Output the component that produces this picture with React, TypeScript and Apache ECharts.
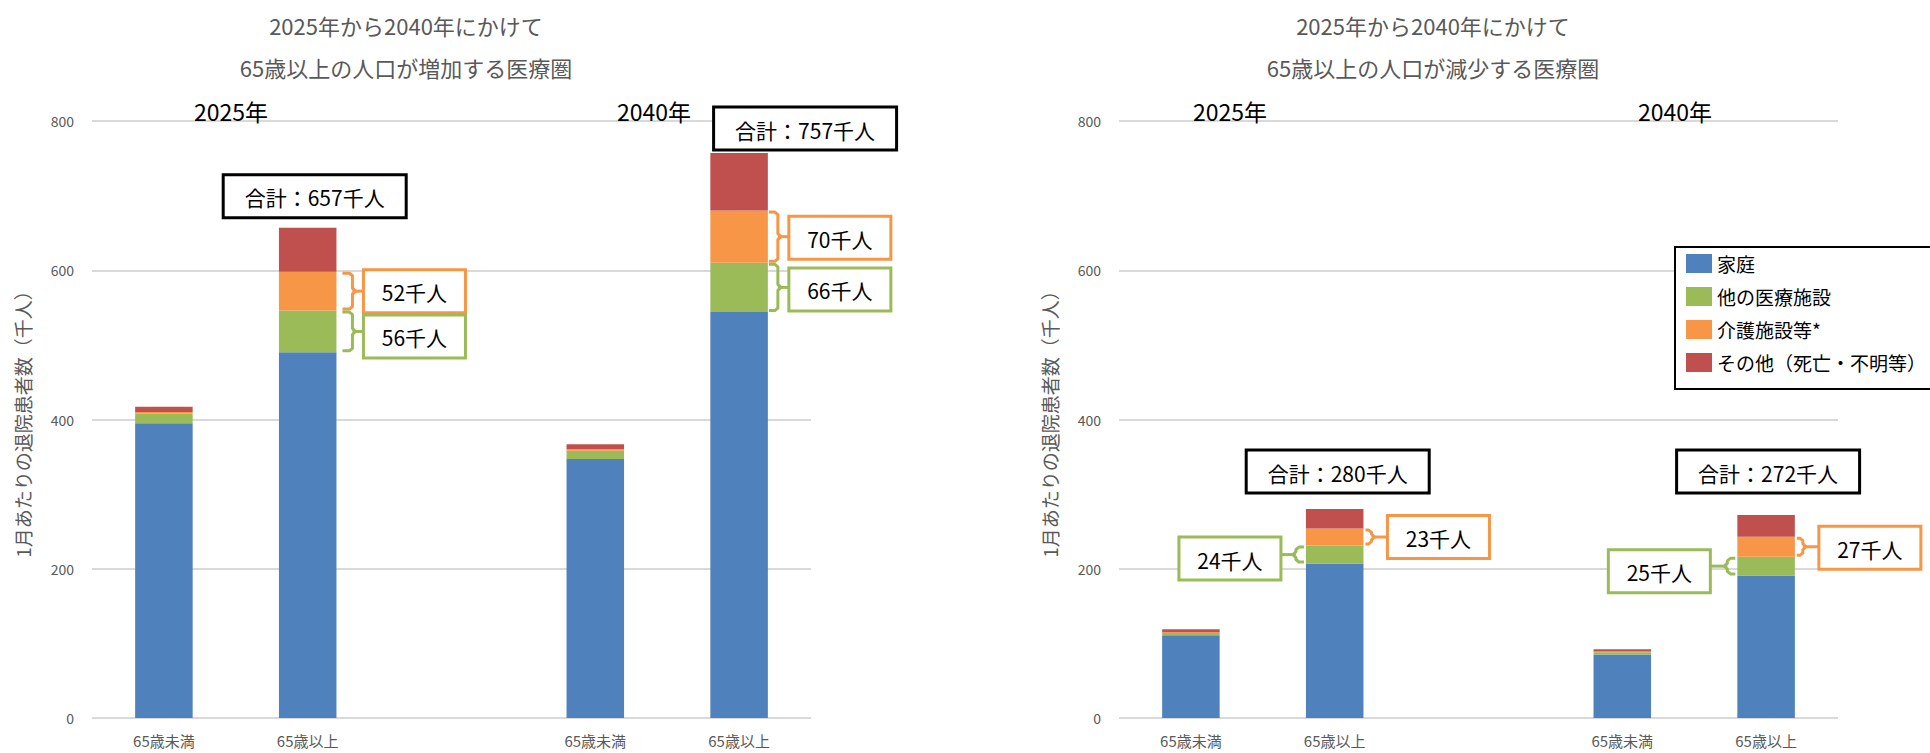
import React, { useEffect, useRef } from 'react';
import * as echarts from 'echarts';

const FONT = '"Noto Sans CJK JP", "Noto Sans", sans-serif';

// ---- data ----
const categories = ['65歳未満', '65歳以上', '', '65歳未満', '65歳以上'];
const seriesNames = ['家庭', '他の医療施設', '介護施設等*', 'その他（死亡・不明等）'];
const colors = ['#4F81BD', '#9BBB59', '#F79646', '#C0504D'];

// 65歳以上の人口が増加する医療圏
const incHome = [395, 490, null, 347, 544];
const incOther = [13, 56, null, 11, 66];
const incCare = [2, 52, null, 2, 70];
const incEtc = [7, 59, null, 7, 77];

// 65歳以上の人口が減少する医療圏
const decHome = [111, 207, null, 85, 191];
const decOther = [3, 24, null, 3, 25];
const decCare = [1, 23, null, 1, 27];
const decEtc = [4, 26, null, 3, 29];

const yMin = 0;
const yMax = 800;
const yInterval = 200;

const titleLine1 = ['2025年から2040年にかけて', '2025年から2040年にかけて'];
const titleLine2 = ['65歳以上の人口が増加する医療圏', '65歳以上の人口が減少する医療圏'];
const yearLabels = ['2025年', '2040年'];
const yAxisName = '1月あたりの退院患者数（千人）';

const panels = [
  [incHome, incOther, incCare, incEtc],
  [decHome, decOther, decCare, decEtc],
];

// ---- layout ----
const W = 1930;
const H = 753;
const grids = [
  { left: 92, top: 121, width: 719, height: 597 },
  { left: 1119, top: 121, width: 719, height: 597 },
];
const titleCenterOffset = 314; // from grid left
const yearLabelPos = [
  [139, 562],
  [111, 556],
];

const totalBoxes = [
  { panel: 0, cat: 1, dx: 7, gap: 10 },
  { panel: 0, cat: 4, dx: 66, gap: 3 },
  { panel: 1, cat: 1, dx: 3, gap: 16 },
  { panel: 1, cat: 4, dx: 2, gap: 22 },
];

const callouts = [
  { panel: 0, cat: 1, s: 2, side: 'right', hook0: 6, depth: 16, boxGap: 27, dy: 0 },
  { panel: 0, cat: 1, s: 1, side: 'right', hook0: 6, depth: 16, boxGap: 27, dy: 5 },
  { panel: 0, cat: 4, s: 2, side: 'right', hook0: 1, depth: 10, boxGap: 21, dy: 1 },
  { panel: 0, cat: 4, s: 1, side: 'right', hook0: 1, depth: 10, boxGap: 21, dy: 2 },
  { panel: 1, cat: 1, s: 1, side: 'left', hook0: 2, depth: 10, boxGap: 25, dy: 4 },
  { panel: 1, cat: 1, s: 2, side: 'right', hook0: 2, depth: 8, boxGap: 24, dy: 0 },
  { panel: 1, cat: 4, s: 1, side: 'left', hook0: 2, depth: 10, boxGap: 27, dy: 5 },
  { panel: 1, cat: 4, s: 2, side: 'right', hook0: 2, depth: 8, boxGap: 24, dy: 1 },
];

function buildBaseOption(): any {
  const series: any[] = [];
  panels.forEach((arrs, p) => {
    arrs.forEach((data, k) => {
      series.push({
        type: 'bar',
        name: seriesNames[k],
        stack: 'panel' + p,
        xAxisIndex: p,
        yAxisIndex: p,
        barWidth: '40%',
        data: data.map((v) => (v == null ? '-' : v)),
        itemStyle: { color: colors[k] },
        emphasis: { disabled: true },
      });
    });
  });
  return {
    animation: false,
    textStyle: { fontFamily: FONT },
    grid: grids.map((g) => ({ ...g, containLabel: false })),
    xAxis: grids.map((_, p) => ({
      gridIndex: p,
      type: 'category',
      data: categories,
      axisLine: { show: false },
      axisTick: { show: false },
      axisLabel: { fontSize: 15, lineHeight: 18, color: '#595959', margin: 13, interval: 0, fontFamily: FONT },
    })),
    yAxis: grids.map((_, p) => ({
      gridIndex: p,
      type: 'value',
      min: yMin,
      max: yMax,
      interval: yInterval,
      axisLine: { show: false },
      axisTick: { show: false },
      axisLabel: { fontSize: 14, color: '#595959', margin: 18, fontFamily: FONT },
      splitLine: { lineStyle: { color: '#d9d9d9', width: 2 } },
      name: yAxisName,
      nameLocation: 'middle',
      nameGap: 60,
      nameTextStyle: { fontSize: 19, color: '#595959', fontFamily: FONT },
    })),
    legend: {
      data: seriesNames,
      orient: 'vertical',
      left: 1686,
      top: 254,
      padding: 0,
      itemWidth: 26,
      itemHeight: 19,
      itemGap: 14,
      icon: 'rect',
      z: 20,
      selectedMode: false,
      textStyle: { fontSize: 19, color: '#000', fontFamily: FONT, lineHeight: 19 },
    },
    series,
  };
}

function App() {
  const ref = useRef<HTMLDivElement>(null);
  useEffect(() => {
    if (!ref.current) return;
    const chart = echarts.init(ref.current, null, { renderer: 'svg', width: W, height: H });
    chart.setOption(buildBaseOption());

    const px = (p: number, cat: number, v: number) =>
      chart.convertToPixel({ gridIndex: p } as any, [cat, v]) as number[];

    const graphics: any[] = [];

    // titles & year labels
    grids.forEach((g, p) => {
      const cx = g.left + titleCenterOffset;
      graphics.push({
        type: 'text', x: cx, y: 25, z: 30,
        style: { text: titleLine1[p], fill: '#595959', fontSize: 22, fontWeight: 'normal', fontFamily: FONT, align: 'center', verticalAlign: 'middle' },
      });
      graphics.push({
        type: 'text', x: cx, y: 67, z: 30,
        style: { text: titleLine2[p], fill: '#595959', fontSize: 22, fontWeight: 'normal', fontFamily: FONT, align: 'center', verticalAlign: 'middle' },
      });
      yearLabels.forEach((t, i) => {
        graphics.push({
          type: 'text', x: g.left + yearLabelPos[p][i], y: 111, z: 30,
          style: { text: t, fill: '#000', fontSize: 23, fontWeight: 'normal', fontFamily: FONT, align: 'center', verticalAlign: 'middle' },
        });
      });
    });

    // legend frame
    graphics.push({
      type: 'rect', z: 15,
      shape: { x: 1675, y: 247, width: 300, height: 142 },
      style: { fill: '#fff', stroke: '#000', lineWidth: 2 },
    });

    const stackSum = (p: number, cat: number, upTo: number) => {
      let s = 0;
      for (let k = 0; k < upTo; k++) s += (panels[p][k][cat] as number) || 0;
      return s;
    };

    // total boxes
    totalBoxes.forEach((b) => {
      const total = stackSum(b.panel, b.cat, 4);
      const [cx, ty] = px(b.panel, b.cat, total);
      const w = 183, h = 43;
      const x = cx + b.dx - w / 2;
      const y = ty - b.gap - h;
      graphics.push({
        type: 'rect', z: 25,
        shape: { x, y, width: w, height: h },
        style: { fill: '#fff', stroke: '#000', lineWidth: 3 },
      });
      graphics.push({
        type: 'text', x: x + w / 2, y: y + h / 2 + 1, z: 26,
        style: { text: '合計：' + total + '千人', fill: '#000', fontSize: 21, fontFamily: FONT, align: 'center', verticalAlign: 'middle' },
      });
    });

    // callouts
    callouts.forEach((c) => {
      const bottom = stackSum(c.panel, c.cat, c.s);
      const val = panels[c.panel][c.s][c.cat] as number;
      const [cx, yb] = px(c.panel, c.cat, bottom);
      const [, yt] = px(c.panel, c.cat, bottom + val);
      const [cx0] = px(c.panel, 0, 0);
      const [cx1] = px(c.panel, 1, 0);
      const half = (cx1 - cx0) * 0.2;
      const dir = c.side === 'right' ? 1 : -1;
      const edge = cx + dir * half;
      const x0 = edge + dir * c.hook0;
      const xv = edge + dir * c.depth;
      const mid = (yt + yb) / 2;
      const w = 102, h = 43;
      const boxEdge = edge + dir * c.boxGap;
      const bx = dir > 0 ? boxEdge : boxEdge - w;
      const by = mid + c.dy - h / 2;
      const color = colors[c.s];
      graphics.push({
        type: 'polyline', z: 22,
        shape: { points: [[x0, yt + 1.5], [xv - dir * 3, yt + 1.5], [xv, yt + 4], [xv, mid - 3], [xv + dir * 3, mid], [xv, mid + 3], [xv, yb - 4], [xv - dir * 3, yb - 1.5], [x0, yb - 1.5]] },
        style: { stroke: color, lineWidth: 3, fill: 'none', lineJoin: 'round' },
      });
      graphics.push({
        type: 'line', z: 22,
        shape: { x1: xv, y1: mid, x2: boxEdge, y2: mid },
        style: { stroke: color, lineWidth: 3 },
      });
      graphics.push({
        type: 'rect', z: 25,
        shape: { x: bx, y: by, width: w, height: h },
        style: { fill: '#fff', stroke: color, lineWidth: 3 },
      });
      graphics.push({
        type: 'text', x: bx + w / 2, y: by + h / 2 + 1, z: 26,
        style: { text: val + '千人', fill: '#000', fontSize: 21, fontFamily: FONT, align: 'center', verticalAlign: 'middle' },
      });
    });

    chart.setOption({ graphic: graphics });

    return () => {
      chart.dispose();
    };
  }, []);

  return (
    <div
      ref={ref}
      style={{ position: 'fixed', left: 0, top: 0, width: W, height: H, background: '#fff' }}
    />
  );
}

export default App;
